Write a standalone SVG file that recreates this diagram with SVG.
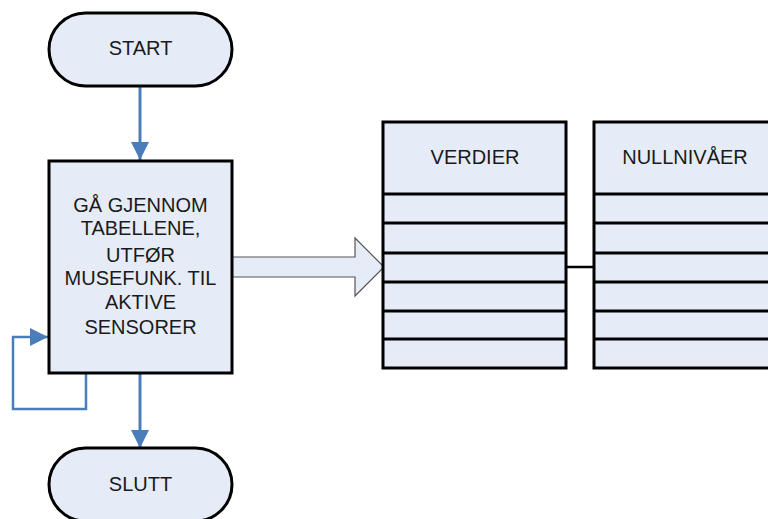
<svg xmlns="http://www.w3.org/2000/svg" width="768" height="519" viewBox="0 0 768 519">
<style>
.shape{fill:#E6ECF7;stroke:#000;stroke-width:3}
.row{stroke:#000;stroke-width:3;fill:none}
.lbl{font-family:"Liberation Sans",Arial,sans-serif;font-size:20px;fill:#1a1a1a;text-anchor:middle}
.flow{stroke:#4A7EBB;stroke-width:3;fill:none}
.loop{stroke:#4A7EBB;stroke-width:2.5;fill:none}
</style>
<defs>
<marker id="ah" viewBox="0 0 10 10" refX="10" refY="5" markerWidth="6" markerHeight="6" markerUnits="strokeWidth" orient="auto">
<path d="M0,0 L10,5 L0,10 Z" fill="#4A7EBB"/>
</marker>
<marker id="ah2" viewBox="0 0 10 10" refX="10" refY="5" markerWidth="7.2" markerHeight="7.2" markerUnits="strokeWidth" orient="auto">
<path d="M0,0 L10,5 L0,10 Z" fill="#4A7EBB"/>
</marker>
</defs>
<g id="connectors">
<line class="flow" x1="140" y1="86" x2="140" y2="160" marker-end="url(#ah)"/>
<line class="flow" x1="140" y1="373" x2="140" y2="448" marker-end="url(#ah)"/>
<polyline class="loop" points="86,374 86,409 13,409 13,337 48,337" marker-end="url(#ah2)"/>
<path d="M232,257 L355,257 L355,238 L384,267 L355,296 L355,277 L232,277 Z" fill="#E6ECF7" stroke="#555" stroke-width="1.2"/>
<line x1="566" y1="267" x2="594" y2="267" stroke="#000" stroke-width="2.5"/>
</g>
<g id="start">
<rect class="shape" x="49" y="13" width="183" height="73" rx="36.5"/>
<text class="lbl" x="140.5" y="55">START</text>
</g>
<g id="process">
<rect class="shape" x="49" y="161" width="183" height="212"/>
<text class="lbl" x="140.5" y="212">GÅ GJENNOM</text>
<text class="lbl" x="140.5" y="235">TABELLENE,</text>
<text class="lbl" x="140.5" y="262">UTFØR</text>
<text class="lbl" x="140.5" y="285">MUSEFUNK. TIL</text>
<text class="lbl" x="140.5" y="309">AKTIVE</text>
<text class="lbl" x="140.5" y="334">SENSORER</text>
</g>
<g id="slutt">
<rect class="shape" x="49" y="448" width="183" height="73" rx="36.5"/>
<text class="lbl" x="140.5" y="491">SLUTT</text>
</g>
<g id="verdier">
<rect class="shape" x="383" y="122" width="183" height="246"/>
<path class="row" d="M383,194H566M383,223H566M383,253H566M383,282H566M383,311H566M383,339H566"/>
<text class="lbl" x="475" y="164">VERDIER</text>
</g>
<g id="nullnivaer">
<rect class="shape" x="594" y="122" width="190" height="246"/>
<path class="row" d="M594,194H784M594,223H784M594,253H784M594,282H784M594,311H784M594,339H784"/>
<text class="lbl" x="685" y="164">NULLNIVÅER</text>
</g>
</svg>
